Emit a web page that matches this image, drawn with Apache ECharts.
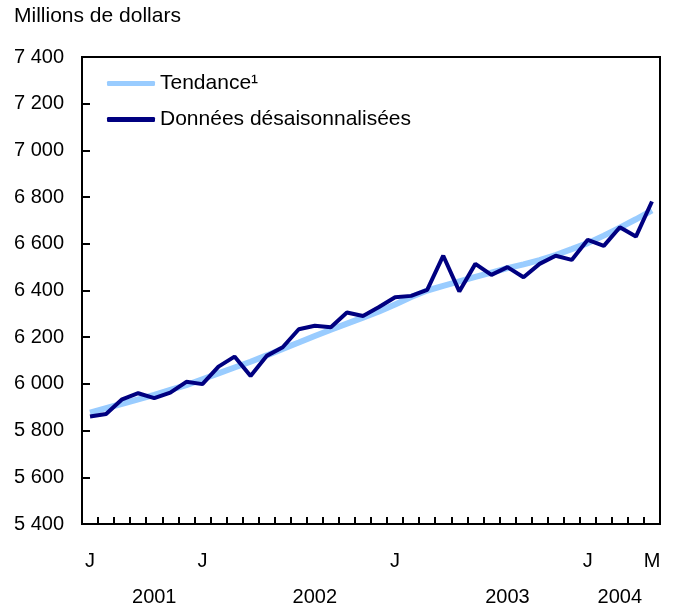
<!DOCTYPE html>
<html lang="fr">
  <head>
    <meta charset="utf-8" />
    <script type="text/javascript" src="https://cdn.jsdelivr.net/npm/echarts@6/dist/echarts.min.js"></script>
    <title>Millions de dollars</title>
    <style>
      html, body { margin: 0; padding: 0; background: #fff; }
      #chart { width: 681px; height: 609px; }
    </style>
  </head>
  <body>
    <div id="chart"></div>
    <script>
      // juin 2001 .. mai 2004
      var months = ['J', 'J', 'A', 'S', 'O', 'N', 'D',
        'J', 'F', 'M', 'A', 'M', 'J', 'J', 'A', 'S', 'O', 'N', 'D',
        'J', 'F', 'M', 'A', 'M', 'J', 'J', 'A', 'S', 'O', 'N', 'D',
        'J', 'F', 'M', 'A', 'M']
      var monthLabelIdx = [0, 7, 19, 31, 35]
      var years = { 4: '2001', 14: '2002', 26: '2003', 33: '2004' }

      var tendance = [5877, 5896, 5915, 5934, 5953, 5974, 5995, 6020, 6045, 6070,
        6095, 6122, 6150, 6177, 6205, 6232, 6258, 6284, 6310, 6340,
        6372, 6400, 6420, 6439, 6458, 6477, 6496, 6512, 6530, 6552,
        6577, 6603, 6635, 6669, 6705, 6743]
      var desais = [5860, 5871, 5934, 5960, 5939, 5963, 6009, 5999, 6074, 6117,
        6034, 6120, 6157, 6234, 6249, 6243, 6306, 6291, 6329, 6371,
        6377, 6403, 6549, 6396, 6514, 6467, 6500, 6457, 6514, 6549,
        6531, 6617, 6591, 6671, 6631, 6781]

      var font = 'Liberation Sans, Arial, Helvetica, sans-serif'
      var chart = echarts.init(document.getElementById('chart'))

      chart.setOption({
        animation: false,
        textStyle: { fontFamily: font, color: '#000' },
        title: {
          text: 'Millions de dollars', left: 9, top: 1,
          textStyle: { fontFamily: font, fontSize: 21, fontWeight: 'normal', color: '#000' }
        },
        legend: {
          orient: 'vertical', left: 102, top: 68, itemGap: 15,
          itemWidth: 48, itemHeight: 5, icon: 'roundRect',
          textStyle: { fontFamily: font, fontSize: 21, color: '#000', padding: [0, 0, 0, 0] },
          data: ['Tendance¹', 'Données désaisonnalisées']
        },
        grid: {
          left: 82, right: 21, top: 57, bottom: 85,
          show: true, borderColor: '#000', borderWidth: 2
        },
        xAxis: [{
          type: 'category', data: months, boundaryGap: true,
          axisLine: { show: true, lineStyle: { color: '#000', width: 2 } },
          axisTick: { show: true, inside: true, length: 7, interval: 0, lineStyle: { color: '#000', width: 2 } },
          axisLabel: {
            fontSize: 20, color: '#000', margin: 27,
            interval: function (i) { return monthLabelIdx.indexOf(i) >= 0 }
          }
        }, {
          type: 'category', data: months, boundaryGap: true, position: 'bottom', offset: 36,
          axisLine: { show: false }, axisTick: { show: false },
          axisLabel: {
            fontSize: 20, color: '#000', margin: 27,
            interval: function (i) { return years[i] !== undefined },
            formatter: function (v, i) { return years[i] || '' }
          }
        }],
        yAxis: {
          type: 'value', min: 5400, max: 7400, interval: 200,
          splitLine: { show: false },
          axisLine: { show: true, lineStyle: { color: '#000', width: 2 } },
          axisTick: { show: true, inside: true, length: 8, lineStyle: { color: '#000', width: 2 } },
          axisLabel: {
            fontSize: 20, color: '#000', margin: 18,
            formatter: function (v) { return String(v).replace(/\B(?=(\d{3})+(?!\d))/g, ' ') }
          }
        },
        series: [{
          name: 'Tendance¹', type: 'line', data: tendance, symbol: 'none',
          lineStyle: { color: '#99ccff', width: 6 }, itemStyle: { color: '#99ccff' }
        }, {
          name: 'Données désaisonnalisées', type: 'line', data: desais, symbol: 'none',
          lineStyle: { color: '#000080', width: 4 }, itemStyle: { color: '#000080' }
        }]
      })
    </script>
  </body>
</html>
